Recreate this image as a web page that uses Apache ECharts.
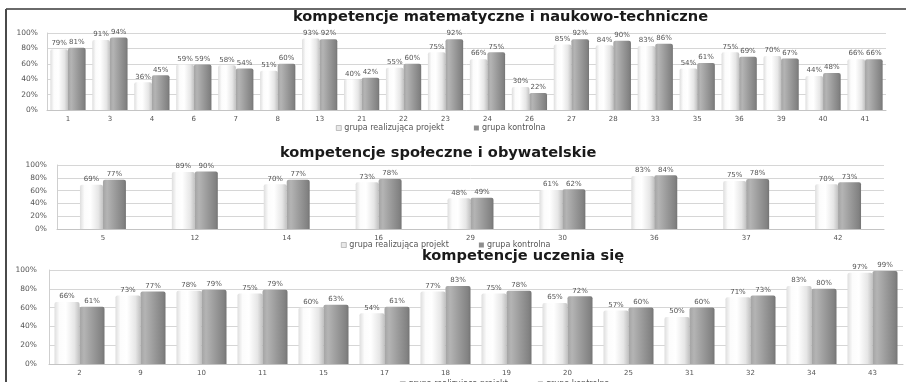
<!DOCTYPE html>
<html>
<head>
<meta charset="utf-8">
<script src="https://cdn.jsdelivr.net/npm/echarts@6/dist/echarts.min.js"></script>
<style>
  html, body { margin: 0; padding: 0; background: #fff; }
  #chart { width: 906px; height: 382px; }
</style>
</head>
<body>
<div id="chart"></div>
<script>
// Series names
const seriesNames = ['grupa realizująca projekt', 'grupa kontrolna'];

// Panel 1: kompetencje matematyczne i naukowo-techniczne
const title1 = 'kompetencje matematyczne i naukowo-techniczne';
const cats1 = ['1','3','4','6','7','8','13','21','22','23','24','26','27','28','33','35','36','39','40','41'];
const proj1 = [79, 91, 36, 59, 58, 51, 93, 40, 55, 75, 66, 30, 85, 84, 83, 54, 75, 70, 44, 66];
const ctrl1 = [81, 94, 45, 59, 54, 60, 92, 42, 60, 92, 75, 22, 92, 90, 86, 61, 69, 67, 48, 66];

// Panel 2: kompetencje społeczne i obywatelskie
const title2 = 'kompetencje społeczne i obywatelskie';
const cats2 = ['5','12','14','16','29','30','36','37','42'];
const proj2 = [69, 89, 70, 73, 48, 61, 83, 75, 70];
const ctrl2 = [77, 90, 77, 78, 49, 62, 84, 78, 73];

// Panel 3: kompetencje uczenia się
const title3 = 'kompetencje uczenia się';
const cats3 = ['2','9','10','11','15','17','18','19','20','25','31','32','34','43'];
const proj3 = [66, 73, 78, 75, 60, 54, 77, 75, 65, 57, 50, 71, 83, 97];
const ctrl3 = [61, 77, 79, 79, 63, 61, 83, 78, 72, 60, 60, 73, 80, 99];

const yTicks = [0, 20, 40, 60, 80, 100];

const FONT = 'DejaVu Sans';
const chart = echarts.init(document.getElementById('chart'), null, { renderer: 'canvas' });

const lightFill = new echarts.graphic.LinearGradient(0, 0, 1, 0, [
  { offset: 0, color: '#dedede' },
  { offset: 0.2, color: '#fcfcfc' },
  { offset: 0.45, color: '#ffffff' },
  { offset: 0.8, color: '#e6e6e6' },
  { offset: 1, color: '#c2c2c2' }
]);
const darkFill = new echarts.graphic.LinearGradient(0, 0, 1, 0, [
  { offset: 0, color: '#a4a4a4' },
  { offset: 0.18, color: '#b4b4b4' },
  { offset: 0.55, color: '#9a9a9a' },
  { offset: 0.9, color: '#828282' },
  { offset: 1, color: '#747474' }
]);

const panels = [
  { title: title1, cats: cats1, proj: proj1, ctrl: ctrl1,
    grid: { left: 47, right: 20, top: 33, height: 77 },
    titlePos: { left: 293, top: 10 }, legendPos: { left: 336, top: 124 },
    gap: '16%', xMargin: 6, yMargin: 9 },
  { title: title2, cats: cats2, proj: proj2, ctrl: ctrl2,
    grid: { left: 57, right: 22, top: 165, height: 64 },
    titlePos: { left: 280, top: 146 }, legendPos: { left: 341, top: 241 },
    gap: '50%', xMargin: 6, yMargin: 10 },
  { title: title3, cats: cats3, proj: proj3, ctrl: ctrl3,
    grid: { left: 49, right: 3, top: 270, height: 94 },
    titlePos: { left: 422, top: 249 }, legendPos: { left: 400, top: 380 },
    gap: '18%', xMargin: 6, yMargin: 12 }
];

const legendItems = [
  { name: seriesNames[0], itemStyle: { color: '#e8e8e8', borderColor: '#9a9a9a', borderWidth: 0.6 } },
  { name: seriesNames[1], itemStyle: { color: '#8e8e8e', borderWidth: 0 } }
];

const option = {
  animation: false,
  backgroundColor: '#ffffff',
  textStyle: { fontFamily: FONT },
  title: panels.map(p => ({
    text: p.title,
    left: p.titlePos.left, top: p.titlePos.top,
    padding: 0,
    textStyle: { fontFamily: FONT, fontSize: 14.6, fontWeight: 'bold', color: '#1a1a1a' }
  })),
  legend: panels.map(p => ({
    data: legendItems,
    left: p.legendPos.left, top: p.legendPos.top,
    padding: 0, itemGap: 30,
    itemWidth: 5, itemHeight: 5,
    icon: 'rect',
    textStyle: { fontFamily: FONT, fontSize: 8, color: '#555', padding: [0, 0, 0, -2] }
  })),
  grid: panels.map(p => Object.assign({ containLabel: false }, p.grid)),
  xAxis: panels.map((p, i) => ({
    type: 'category', gridIndex: i, data: p.cats,
    axisLine: { show: true, lineStyle: { color: '#c4c4c4', width: 1 } },
    axisTick: { show: false },
    axisLabel: { fontFamily: FONT, fontSize: 7, color: '#555', margin: p.xMargin }
  })),
  yAxis: panels.map((p, i) => ({
    type: 'value', gridIndex: i,
    min: yTicks[0], max: yTicks[yTicks.length - 1], interval: yTicks[1] - yTicks[0],
    axisLine: { show: true, lineStyle: { color: '#cfcfcf', width: 1 } },
    axisTick: { show: false },
    splitLine: { show: true, lineStyle: { color: '#d6d6d6', width: 1 } },
    axisLabel: { fontFamily: FONT, fontSize: 7.5, color: '#555', margin: p.yMargin, formatter: '{value}%' }
  })),
  series: [],
  graphic: [
    // Frame lines along the left and top edges
    { type: 'line', shape: { x1: 6, y1: 9, x2: 906, y2: 9 }, style: { stroke: '#6a6a6a', lineWidth: 2 }, silent: true },
    { type: 'line', shape: { x1: 6, y1: 9, x2: 6, y2: 382 }, style: { stroke: '#4a4a4a', lineWidth: 2 }, silent: true }
  ]
};

panels.forEach((p, i) => {
  const label = {
    show: true, position: 'top', distance: 2,
    fontFamily: FONT, fontSize: 7, color: '#555',
    formatter: '{c}%'
  };
  option.series.push({
    name: seriesNames[0], type: 'bar', xAxisIndex: i, yAxisIndex: i,
    data: p.proj, barGap: '0%', barCategoryGap: p.gap,
    itemStyle: { color: lightFill, borderRadius: [2, 2, 0, 0] },
    label: label
  });
  option.series.push({
    name: seriesNames[1], type: 'bar', xAxisIndex: i, yAxisIndex: i,
    data: p.ctrl, barGap: '0%', barCategoryGap: p.gap,
    itemStyle: { color: darkFill, borderRadius: [2, 2, 0, 0] },
    label: label
  });
});

chart.setOption(option);
</script>
</body>
</html>
